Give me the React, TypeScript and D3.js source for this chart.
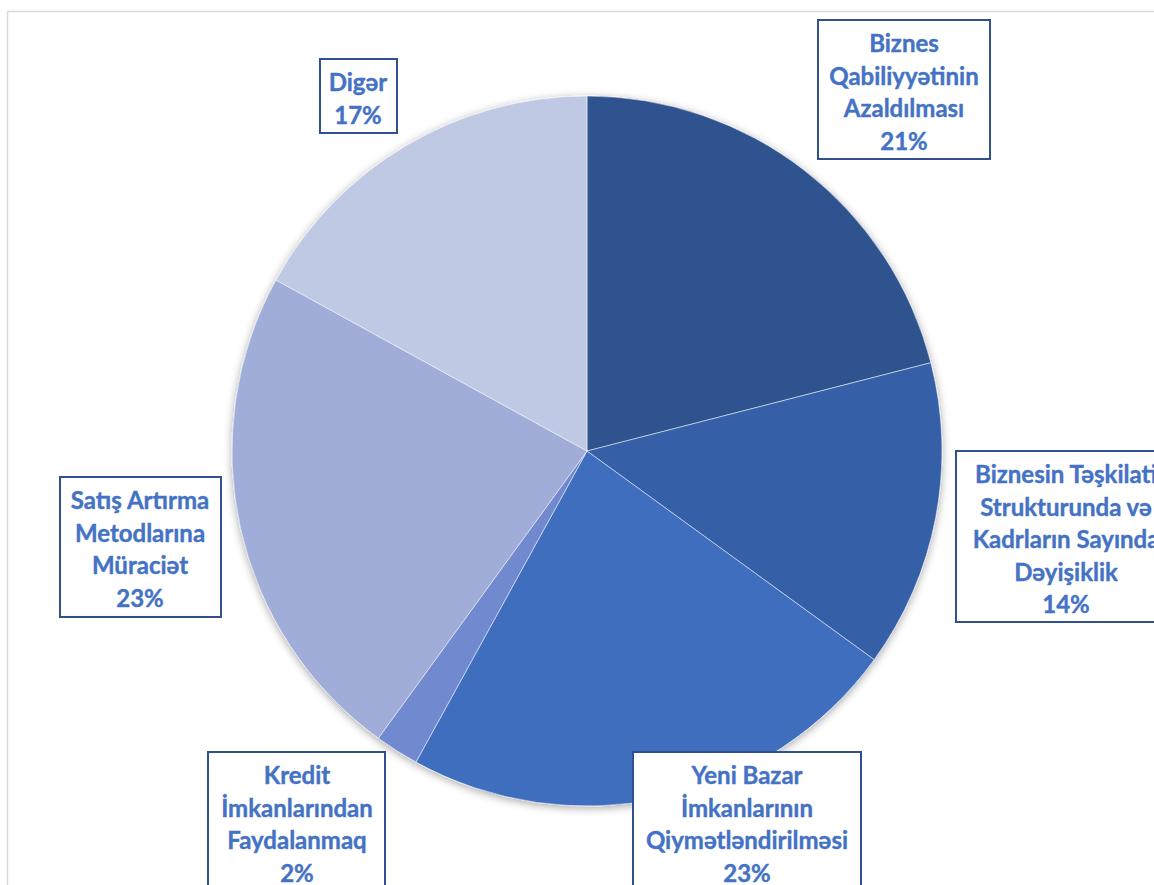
import React from "react";
import * as d3 from "d3";

const categories = [
  "Biznes Qabiliyyətinin Azaldılması",
  "Biznesin Təşkilati Strukturunda və Kadrların Sayında Dəyişiklik",
  "Yeni Bazar İmkanlarının Qiymətləndirilməsi",
  "Kredit İmkanlarından Faydalanmaq",
  "Satış Artırma Metodlarına Müraciət",
  "Digər",
];
const values = [21, 14, 23, 2, 23, 17];
const labelLines = [
  ["Biznes", "Qabiliyyətinin", "Azaldılması"],
  ["Biznesin Təşkilati", "Strukturunda və", "Kadrların Sayında", "Dəyişiklik"],
  ["Yeni Bazar", "İmkanlarının", "Qiymətləndirilməsi"],
  ["Kredit", "İmkanlarından", "Faydalanmaq"],
  ["Satış Artırma", "Metodlarına", "Müraciət"],
  ["Digər"],
];
const colors = ["#2F528F", "#3660A8", "#3F6EBE", "#6F89CF", "#A0ADD8", "#C0C9E4"];

// label box layout (x, y, w, h)
const boxes = [
  { x: 818, y: 20, w: 172, h: 139 },
  { x: 956, y: 451, w: 220, h: 171 },
  { x: 633, y: 752, w: 228, h: 160 },
  { x: 208, y: 752, w: 177, h: 160 },
  { x: 60, y: 477, w: 161, h: 140 },
  { x: 320, y: 59, w: 77, h: 74 },
];
const textCx = [904, 1066, 747, 297, 140, 358];

const W = 1154;
const H = 885;
const cx = 587;
const cy = 451;
const R = 355;

export default function App() {
  const pie = d3.pie<number>().sort(null).value((d) => d);
  const arcs = pie(values);
  const arc = d3.arc<d3.PieArcDatum<number>>().innerRadius(0).outerRadius(R);
  const total = d3.sum(values);

  return (
    <svg
      width={W}
      height={H}
      style={{ position: "absolute", left: 0, top: 0, background: "#fff" }}
      fontFamily="Lato, 'Open Sans', sans-serif"
    >
      <defs>
        <filter id="shadow" x="-10%" y="-10%" width="120%" height="120%">
          <feDropShadow dx="0" dy="2" stdDeviation="4" floodColor="#000" floodOpacity="0.35" />
        </filter>
      </defs>
      <line x1={7.5} y1={11.5} x2={W} y2={11.5} stroke="#D9D9D9" strokeWidth={1.5} />
      <line x1={7.5} y1={11.5} x2={7.5} y2={H} stroke="#D9D9D9" strokeWidth={1.5} />
      <g transform={`translate(${cx},${cy})`} filter="url(#shadow)">
        {arcs.map((a, i) => (
          <path
            key={categories[i]}
            d={arc(a) || ""}
            fill={colors[i]}
            stroke="#ffffff"
            strokeOpacity={0.5}
            strokeWidth={1}
          />
        ))}
      </g>
      {arcs.map((a, i) => {
        const b = boxes[i];
        const lines = [...labelLines[i], `${Math.round((values[i] / total) * 100)}%`];
        return (
          <g key={"lbl" + i}>
            <rect
              x={b.x}
              y={b.y}
              width={b.w}
              height={b.h}
              fill="#fff"
              stroke="#2F528F"
              strokeWidth={2}
            />
            {lines.map((t, j) => (
              <text
                key={j}
                x={textCx[i]}
                y={b.y + 22.5 + j * 32.5}
                textAnchor="middle"
                dominantBaseline="central"
                fontSize={24}
                fontWeight="bold"
                fill="#4472C4"
                stroke="#4472C4"
                strokeWidth={0.4}
              >
                {t}
              </text>
            ))}
          </g>
        );
      })}
    </svg>
  );
}
